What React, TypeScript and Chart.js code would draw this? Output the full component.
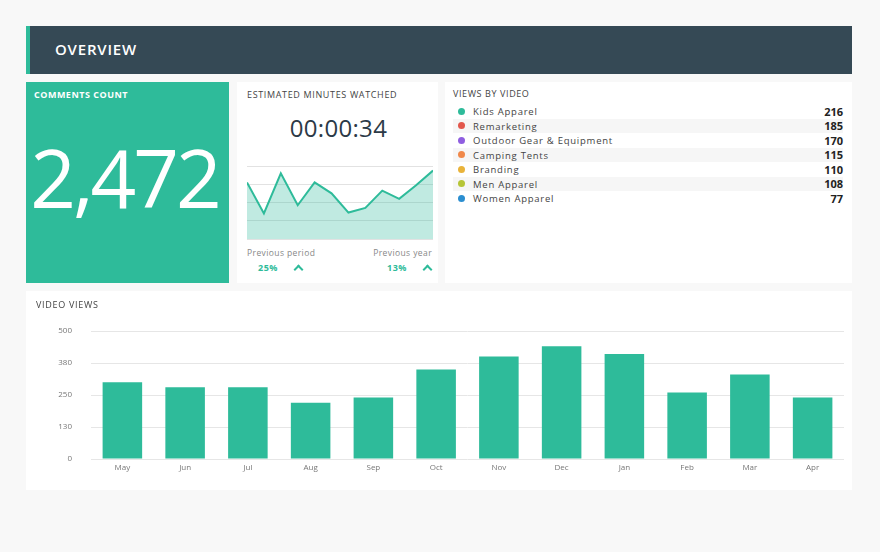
import React, { useEffect, useRef } from "react";
import { Chart, registerables } from "chart.js";

Chart.register(...registerables);

const months = ["May", "Jun", "Jul", "Aug", "Sep", "Oct", "Nov", "Dec", "Jan", "Feb", "Mar", "Apr"];
const videoViews = [300, 280, 280, 220, 240, 350, 400, 440, 410, 260, 330, 240];
const videoViewTicks = [0, 125, 250, 375, 500];

const minutesPeriods = ["1", "2", "3", "4", "5", "6", "7", "8", "9", "10", "11", "12"];
const minutesTrend = [31, 14, 36, 18.5, 31, 25, 14.5, 17, 26.5, 22, 29.5, 37.5];
const minutesTicks = [0, 10, 20, 30, 40];

const videoNames = ["Kids Apparel", "Remarketing", "Outdoor Gear & Equipment", "Camping Tents", "Branding", "Men Apparel", "Women Apparel"];
const videoCounts = [216, 185, 170, 115, 110, 108, 77];
const videoColors = ["#2ebb9a", "#e2574c", "#8f5ee0", "#f0884a", "#e9b33a", "#b6c536", "#2b8ed0"];

const commentsCount = 2472;
const watchTime = "00:00:34";
const prevPeriodPct = 25;
const prevYearPct = 13;

const GREEN = "#2ebb9a";
const FONT = "'Open Sans', 'Noto Sans', sans-serif";

function BarChart() {
  const ref = useRef<HTMLCanvasElement | null>(null);
  useEffect(() => {
    if (!ref.current) return;
    const chart = new Chart(ref.current, {
      type: "bar",
      data: {
        labels: months,
        datasets: [
          {
            data: videoViews,
            backgroundColor: GREEN,
            borderWidth: 0,
            barPercentage: 0.63,
            categoryPercentage: 1,
          },
        ],
      },
      options: {
        animation: false,
        responsive: false,
        maintainAspectRatio: false,
        layout: { padding: { top: 40, right: 8, left: 0, bottom: 0 } },
        plugins: { legend: { display: false }, tooltip: { enabled: false } },
        scales: {
          x: {
            grid: { display: false, drawTicks: false },
            border: { display: false },
            ticks: { color: "#777", font: { family: FONT, size: 8 }, padding: 4 },
            afterFit: (s: any) => {
              s.height = 31;
            },
          },
          y: {
            min: 0,
            max: 500,
            afterBuildTicks: (s: any) => {
              s.ticks = videoViewTicks.map((v) => ({ value: v }));
            },
            grid: { color: "#e6e6e6", drawTicks: false, lineWidth: 1 },
            border: { display: false },
            ticks: {
              color: "#777",
              font: { family: FONT, size: 8 },
              padding: 19,
              callback: (v: any) => String(Math.round(Number(v) / 10) * 10),
            },
            afterFit: (s: any) => {
              s.width = 65;
            },
          },
        },
      },
    });
    return () => chart.destroy();
  }, []);
  return <canvas ref={ref} width={826} height={199} style={{ position: "absolute", left: 0, top: 0 }} />;
}

function Sparkline() {
  const ref = useRef<HTMLCanvasElement | null>(null);
  useEffect(() => {
    if (!ref.current) return;
    const chart = new Chart(ref.current, {
      type: "line",
      data: {
        labels: minutesPeriods,
        datasets: [
          {
            data: minutesTrend,
            borderColor: GREEN,
            borderWidth: 2,
            backgroundColor: "rgba(46,187,154,0.3)",
            fill: "origin",
            pointRadius: 0,
            tension: 0,
          },
        ],
      },
      options: {
        animation: false,
        responsive: false,
        maintainAspectRatio: false,
        layout: { padding: { top: 2, bottom: 1, left: 0, right: 0 } },
        plugins: { legend: { display: false }, tooltip: { enabled: false } },
        scales: {
          x: { display: false, offset: false },
          y: {
            min: 0,
            max: 40,
            afterBuildTicks: (s: any) => {
              s.ticks = minutesTicks.map((v) => ({ value: v }));
            },
            grid: { color: "#e2e2e2", drawTicks: false },
            border: { display: false },
            ticks: { display: false },
            afterFit: (s: any) => {
              s.width = 0;
            },
          },
        },
      },
    });
    return () => chart.destroy();
  }, []);
  return <canvas ref={ref} width={186} height={76} style={{ position: "absolute", left: 247, top: 164 }} />;
}

function Chevron({ left, top }: { left: number; top: number }) {
  return (
    <div
      style={{
        position: "absolute",
        left,
        top,
        width: 5,
        height: 5,
        borderTop: `2px solid ${GREEN}`,
        borderLeft: `2px solid ${GREEN}`,
        transform: "rotate(45deg)",
      }}
    />
  );
}

const abs = (l: number, t: number, w: number, h: number, extra: React.CSSProperties = {}): React.CSSProperties => ({
  position: "absolute",
  left: l,
  top: t,
  width: w,
  height: h,
  ...extra,
});

export default function App() {
  return (
    <div style={{ position: "absolute", left: 0, top: 0, width: 880, height: 552, background: "#f8f8f8", fontFamily: FONT, overflow: "hidden" }}>
      {/* Header */}
      <div style={abs(26, 26, 826, 48, { background: "#354955" })}>
        <div style={abs(0, 0, 4, 48, { background: GREEN })} />
        <div style={{ position: "absolute", left: 29, top: 13, color: "#fff", fontSize: 15, fontWeight: 600, letterSpacing: 0.8, lineHeight: "20px" }}>OVERVIEW</div>
      </div>

      {/* Comments count */}
      <div style={abs(26, 82, 203, 201, { background: GREEN })}>
        <div style={{ position: "absolute", left: 8, top: 7, color: "#fff", fontSize: 9, fontWeight: 700, lineHeight: "12px", letterSpacing: 0.5 }}>COMMENTS COUNT</div>
        <div style={{ position: "absolute", left: -3, width: 203, top: 40, textAlign: "center", color: "#fff", fontSize: 80, fontWeight: 500, lineHeight: "110px", letterSpacing: -3 }}>
          {commentsCount.toLocaleString("en-US")}
        </div>
      </div>

      {/* Estimated minutes watched */}
      <div style={abs(237, 82, 201, 201, { background: "#fff" })} />
      <div style={{ position: "absolute", left: 247, top: 89, color: "#444", fontSize: 9, fontWeight: 500, letterSpacing: 0.65, lineHeight: "12px" }}>ESTIMATED MINUTES WATCHED</div>
      <div style={{ position: "absolute", left: 238, width: 201, top: 113, textAlign: "center", color: "#2c3a47", fontSize: 24, fontWeight: 400, lineHeight: "30px", letterSpacing: 0.3 }}>{watchTime}</div>
      <Sparkline />
      <div style={{ position: "absolute", left: 247, top: 247, color: "#888", fontSize: 8.5, letterSpacing: 0.4, lineHeight: "12px" }}>Previous period</div>
      <div style={{ position: "absolute", left: 258, top: 262, color: GREEN, fontSize: 9, fontWeight: 700, letterSpacing: 0.5, lineHeight: "12px" }}>{prevPeriodPct}%</div>
      <Chevron left={295} top={266} />
      <div style={{ position: "absolute", right: 880 - 432, top: 247, color: "#888", fontSize: 8.5, letterSpacing: 0.4, lineHeight: "12px" }}>Previous year</div>
      <div style={{ position: "absolute", left: 387, top: 262, color: GREEN, fontSize: 9, fontWeight: 700, letterSpacing: 0.5, lineHeight: "12px" }}>{prevYearPct}%</div>
      <Chevron left={424} top={266} />

      {/* Views by video */}
      <div style={abs(445, 82, 407, 201, { background: "#fff" })} />
      <div style={{ position: "absolute", left: 453, top: 88, color: "#444", fontSize: 9, fontWeight: 500, letterSpacing: 0.6, lineHeight: "12px" }}>VIEWS BY VIDEO</div>
      {videoNames.map((name, i) => (
        <div key={name} style={abs(453, 104 + i * 14.5, 390, 14.5, { background: i % 2 === 1 ? "#f6f6f6" : "transparent" })}>
          <div style={{ position: "absolute", left: 5, top: 3.5, width: 7, height: 7, borderRadius: 4, background: videoColors[i] }} />
          <div style={{ position: "absolute", left: 20, top: 1, color: "#444", fontSize: 9.5, letterSpacing: 0.75, lineHeight: "13px" }}>{name}</div>
          <div style={{ position: "absolute", right: 0, top: 0.5, color: "#222", fontSize: 11, fontWeight: 700, lineHeight: "13px" }}>{videoCounts[i]}</div>
        </div>
      ))}

      {/* Video views */}
      <div style={abs(26, 291, 826, 199, { background: "#fff" })}>
        <BarChart />
        <div style={{ position: "absolute", left: 10, top: 8, color: "#444", fontSize: 9, fontWeight: 500, letterSpacing: 0.7, lineHeight: "12px" }}>VIDEO VIEWS</div>
      </div>
    </div>
  );
}
